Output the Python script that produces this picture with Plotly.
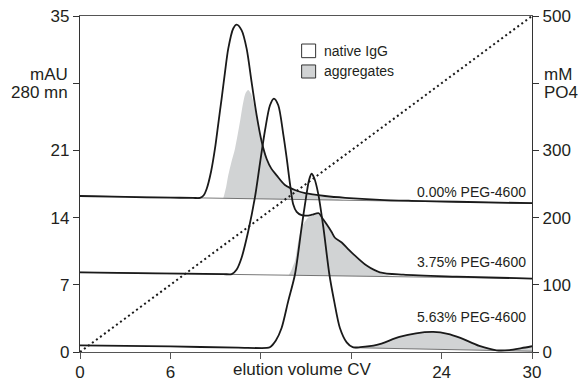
import plotly.graph_objects as go

# ---------------- data ----------------
# 0.00% PEG-4600 chromatogram (mAU)
a_x = [0, 3, 6, 7.5, 7.96, 8.2, 8.41, 8.7, 8.96, 9.18, 9.40, 9.62, 9.84, 10.17, 10.40, 10.73,
       11.06, 11.39, 11.72, 12.06, 12.39, 12.7, 13.05, 13.6, 14.38, 14.93, 16.26, 17.6, 19.9,
       22, 25, 30]
a_y = [16.25, 16.15, 16.08, 16.05, 16.05, 16.3, 17.0, 18.8, 21.2, 23.8, 26.4, 29.1, 31.6, 33.7,
       34.1, 33.5, 31.6, 28.1, 24.7, 21.9, 20.1, 19.1, 18.4, 17.4, 16.8, 16.55, 16.25, 16.06,
       15.85, 15.75, 15.65, 15.5]
a_agg_x = [9.51, 9.7, 9.84, 10.05, 10.29, 10.62, 10.84, 11.0, 11.17, 11.35, 11.5, 11.83, 12.06,
           12.39, 13.05, 13.6, 14.38, 14.93, 16.26, 17.5]
a_agg_y = [16.01, 17.2, 18.4, 19.8, 21.2, 24.0, 26.05, 27.0, 27.3, 26.9, 26.05, 23.6, 21.8,
           20.0, 18.3, 17.3, 16.7, 16.45, 16.15, 15.82]
a_base_x = [0, 30]
a_base_y = [16.25, 15.5]

# 3.75% PEG-4600 chromatogram (mAU)
b_x = [0, 5, 9.5, 10.07, 10.4, 10.73, 11.17, 11.61, 11.94, 12.28, 12.61, 12.87, 13.16, 13.49,
       13.71, 13.94, 14.15, 14.38, 14.71, 15.05, 15.4, 15.85, 16.1, 16.37, 16.7, 16.92, 17.37,
       17.75, 18.14, 19.02, 19.9, 21.45, 25, 30]
b_y = [8.3, 8.2, 8.12, 8.12, 8.6, 9.85, 12.6, 16.1, 19.6, 23.1, 25.7, 26.4, 25.7, 22.7, 20.3,
       17.5, 15.4, 14.6, 14.25, 14.2, 14.3, 14.45, 13.9, 13.3, 12.5, 11.9, 11.4, 10.8, 10.2, 9.0,
       8.3, 8.05, 7.85, 7.65]
b_agg_x = [13.85, 14.0, 14.15, 14.27, 14.49, 14.65, 14.82, 15.15, 15.48, 15.85, 16.1, 16.37,
           16.7, 16.92, 17.37, 17.75, 18.14, 19.02, 19.9, 21.0]
b_agg_y = [8.0, 8.4, 9.0, 9.5, 11.6, 12.6, 13.3, 14.0, 14.25, 14.35, 13.8, 13.2, 12.4, 11.8,
           11.3, 10.7, 10.1, 8.9, 8.2, 7.84]
b_base_x = [0, 30]
b_base_y = [8.3, 7.65]

# 5.63% PEG-4600 chromatogram (mAU)
c_x = [0, 6, 10.5, 12.4, 12.6, 13.0, 13.38, 13.82, 14.27, 14.71, 15.04, 15.2, 15.37, 15.55,
       15.81, 16.15, 16.55, 16.87, 17.25, 17.7, 18.1]
c_y = [0.7, 0.58, 0.45, 0.42, 0.5, 1.2, 2.5, 5.3, 8.1, 13.0, 16.5, 17.9, 18.57, 18.1, 16.5,
       13.0, 8.1, 5.3, 2.5, 1.0, 0.5]
c_agg_x = [18.1, 18.6, 19.7, 21.2, 22.3, 23.45, 24.4, 25.2, 26.5, 27.65, 28.5, 29.3, 30]
c_agg_y = [0.5, 0.5, 0.73, 1.57, 1.95, 2.09, 1.9, 1.5, 0.63, 0.18, 0.2, 0.4, 0.6]
c_base_x = [18.1, 30]
c_base_y = [0.45, 0.08]

# phosphate gradient (mM PO4)
grad_x = [0, 30]
grad_y = [0, 500]

x_ticks = [0, 6, 12, 18, 24, 30]
x_ticktext = ["0", "6", "", "", "24", "30"]
y_ticks = [0, 7, 14, 21, 28, 35]
y_ticktext = ["0", "7", "14", "21", "", "35"]
y_unit_lines = ["mAU", "280 mn"]
y2_ticks = [0, 100, 200, 300, 400, 500]
y2_ticktext = ["0", "100", "200", "300", "", "500"]
y2_unit_lines = ["mM", "PO4"]
series_labels = ["0.00% PEG-4600", "3.75% PEG-4600", "5.63% PEG-4600"]
label_y = [16.7, 9.37, 3.65]
legend_names = ["native IgG", "aggregates"]

# ---------------- styling ----------------
FONT = "Liberation Sans, Arial, Helvetica, sans-serif"
TXT = "#231f20"
GRAY = "#d1d3d4"
LW = 1.8

fig = go.Figure()

def add_agg(bx, by, tx, ty):
    fig.add_trace(go.Scatter(x=bx, y=by, mode="lines", line=dict(width=0, color=GRAY),
                             hoverinfo="skip", showlegend=False))
    fig.add_trace(go.Scatter(x=tx, y=ty, mode="lines", line=dict(width=0, color=GRAY, shape="spline", smoothing=0.8),
                             fill="tonexty", fillcolor=GRAY, hoverinfo="skip", showlegend=False))

def base_at(bx, by, x):
    return by[0] + (by[1] - by[0]) * (x - bx[0]) / (bx[1] - bx[0])

add_agg([a_agg_x[0], a_agg_x[-1]], [base_at(a_base_x, a_base_y, a_agg_x[0]), base_at(a_base_x, a_base_y, a_agg_x[-1])], a_agg_x, a_agg_y)
add_agg([b_agg_x[0], b_agg_x[-1]], [base_at(b_base_x, b_base_y, b_agg_x[0]), base_at(b_base_x, b_base_y, b_agg_x[-1])], b_agg_x, b_agg_y)
add_agg(c_base_x, c_base_y, c_agg_x, c_agg_y)

# thin baselines
for bx, by in [(a_base_x, a_base_y), (b_base_x, b_base_y), (c_base_x, c_base_y)]:
    fig.add_trace(go.Scatter(x=bx, y=by, mode="lines", line=dict(width=0.8, color="#555"),
                             hoverinfo="skip", showlegend=False))

# chromatograms
for xs, ys in [(a_x, a_y), (b_x, b_y), (c_x + c_agg_x[1:], c_y + c_agg_y[1:])]:
    fig.add_trace(go.Scatter(x=xs, y=ys, mode="lines",
                             line=dict(width=LW, color="#1a1a1a", shape="spline", smoothing=0.8),
                             hoverinfo="skip", showlegend=False))

# gradient (dotted) on right axis
fig.add_trace(go.Scatter(x=grad_x, y=grad_y, yaxis="y2", mode="lines",
                         line=dict(width=2, color="#1a1a1a", dash="2px,3px"),
                         hoverinfo="skip", showlegend=False))

# series labels
for t, yy in zip(series_labels, label_y):
    fig.add_annotation(x=29.75, y=yy, text=t, showarrow=False, xanchor="right", yanchor="middle",
                       font=dict(family=FONT, size=14, color=TXT))

# x axis title placed between ticks
fig.add_annotation(x=14.8, y=0, yref="paper", text="elution volume CV", showarrow=False,
                   xanchor="center", yanchor="top", yshift=-6,
                   font=dict(family=FONT, size=17, color=TXT))

# axis unit labels (two lines at the 28 / 400 tick)
for i, t in enumerate(y_unit_lines):
    fig.add_annotation(x=0, xref="paper", y=28, yref="y", text=t, showarrow=False,
                       xanchor="right", yanchor="middle", xshift=-10, yshift=9 - 18 * i,
                       font=dict(family=FONT, size=17, color=TXT))
for i, t in enumerate(y2_unit_lines):
    fig.add_annotation(x=1, xref="paper", y=400, yref="y2", text=t, showarrow=False,
                       xanchor="left", yanchor="middle", xshift=10, yshift=9 - 18 * i,
                       font=dict(family=FONT, size=17, color=TXT))

# legend (boxes + text)
box_y = [(30.66, 32.08), (28.54, 29.9)]
box_fill = ["white", GRAY]
for (y0, y1), fc, name in zip(box_y, box_fill, legend_names):
    fig.add_shape(type="rect", x0=14.71, x1=15.64, y0=y0, y1=y1, xref="x", yref="y",
                  line=dict(color="#333", width=1), fillcolor=fc)
    fig.add_annotation(x=16.06, y=(y0 + y1) / 2, text=name, showarrow=False, xanchor="left",
                       yanchor="middle", font=dict(family=FONT, size=14, color=TXT))

axis_common = dict(showgrid=False, zeroline=False, showline=True, ticks="outside", ticklen=6,
                   tickwidth=1.2, automargin=False,
                   tickfont=dict(family=FONT, size=17, color=TXT))

fig.update_layout(
    width=587, height=382,
    margin=dict(l=80, r=55, t=16, b=30),
    paper_bgcolor="white", plot_bgcolor="white",
    showlegend=False,
    xaxis=dict(range=[0, 30], tickvals=x_ticks, ticktext=x_ticktext, linecolor="#555",
               linewidth=1.4, mirror=True, tickcolor="#555", ticklabelstandoff=-2, **axis_common),
    yaxis=dict(range=[0, 35], tickvals=y_ticks, ticktext=y_ticktext, linecolor="#333",
               linewidth=1.2, tickcolor="#333", **axis_common),
    yaxis2=dict(range=[0, 500], tickvals=y2_ticks, ticktext=y2_ticktext, overlaying="y",
                side="right", linecolor="#333", linewidth=1.2, tickcolor="#333", **axis_common),
)

fig.write_html("out.html")
